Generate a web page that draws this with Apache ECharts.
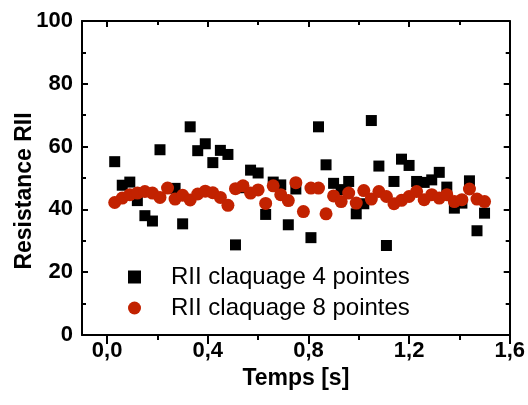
<!DOCTYPE html>
<html>
<head>
<meta charset="utf-8">
<script src="https://cdn.jsdelivr.net/npm/echarts@6/dist/echarts.min.js"></script>
<style>html,body{margin:0;padding:0;background:#fff}#c{width:528px;height:405px}</style>
</head>
<body>
<div id="c"></div>
<script>
// Data
const time4 = [0.03,0.06,0.09,0.12,0.15,0.18,0.21,0.27,0.30,0.33,0.36,0.39,0.42,0.45,0.48,0.51,0.54,0.57,0.60,0.63,0.66,0.69,0.72,0.75,0.81,0.84,0.87,0.90,0.93,0.96,0.99,1.02,1.05,1.08,1.11,1.14,1.17,1.20,1.23,1.26,1.29,1.32,1.35,1.38,1.41,1.44,1.47,1.50];
const rii4 = [55.2,47.7,48.7,42.8,38.0,36.3,59.0,46.7,35.4,66.3,58.7,60.9,54.9,58.8,57.5,28.7,46.9,52.5,51.6,38.4,48.7,47.8,35.1,46.5,31.0,66.3,54.2,48.3,46.3,48.9,38.6,41.8,68.3,53.8,28.5,48.9,56.0,54.0,48.9,48.6,49.4,51.8,47.1,40.4,42.0,49.1,33.2,38.8];
const time8 = [0.03,0.06,0.09,0.12,0.15,0.18,0.21,0.24,0.27,0.30,0.33,0.36,0.39,0.42,0.45,0.48,0.51,0.54,0.57,0.60,0.63,0.66,0.69,0.72,0.75,0.78,0.81,0.84,0.87,0.90,0.93,0.96,0.99,1.02,1.05,1.08,1.11,1.14,1.17,1.20,1.23,1.26,1.29,1.32,1.35,1.38,1.41,1.44,1.47,1.50];
const rii8 = [42.2,43.6,44.7,45.2,45.7,45.2,43.8,46.8,43.3,44.5,43.0,44.9,45.8,45.3,43.8,41.3,46.6,47.5,45.2,46.2,41.9,47.5,44.7,42.8,48.5,39.3,46.8,46.8,38.6,44.3,42.5,45.2,42.0,46.0,43.3,45.7,44.1,41.8,42.9,44.1,45.7,43.1,44.7,43.6,44.7,42.5,43.1,46.5,43.3,42.5];
const xMajor = [0, 0.4, 0.8, 1.2, 1.6];
const xMinor = [0.2, 0.6, 1.0, 1.4];
const seriesNames = ['RII claquage 4 pointes', 'RII claquage 8 pointes'];
const xTitle = 'Temps [s]';
const yTitle = 'Resistance RII';

const FONT = "'Liberation Sans', Arial, sans-serif";
const black = '#000';
const red = '#C22200';

const chart = echarts.init(document.getElementById('c'), null, {renderer: 'canvas'});

function xAx(pos, ticks, len, inside, showLine, showLabel) {
  return {
    type: 'value', position: pos, min: -0.1, max: 1.6,
    axisLine: {show: showLine, onZero: false, lineStyle: {color: black, width: 2}},
    axisTick: {show: true, inside: inside, length: len, customValues: ticks, lineStyle: {color: black, width: 2}},
    axisLabel: showLabel ? {show: true, customValues: ticks, margin: 5, color: black, fontFamily: FONT, fontWeight: 'bold', fontSize: 22,
      formatter: v => v.toFixed(1).replace('.', ',')} : {show: false},
    splitLine: {show: false}
  };
}
function yAx(pos, showLabel) {
  return {
    type: 'value', position: pos, min: 0, max: 100, interval: 20,
    axisLine: {show: true, onZero: false, lineStyle: {color: black, width: 2}},
    axisTick: {show: true, inside: true, length: 6, lineStyle: {color: black, width: 2}},
    minorTick: {show: true, splitNumber: 2, length: 4, lineStyle: {color: black, width: 2}},
    axisLabel: showLabel ? {show: true, margin: 9, color: black, fontFamily: FONT, fontWeight: 'bold', fontSize: 22} : {show: false},
    splitLine: {show: false}
  };
}

const xa0 = xAx('bottom', xMajor, 9, false, true, true);
xa0.name = xTitle;
xa0.nameLocation = 'middle';
xa0.nameGap = 22;
xa0.nameTextStyle = {color: black, fontFamily: FONT, fontWeight: 'bold', fontSize: 23};

const option = {
  animation: false,
  backgroundColor: '#fff',
  grid: {left: 82, right: 16, top: 21, bottom: 70, containLabel: false},
  xAxis: [
    xa0,
    xAx('bottom', xMinor, 5, false, false, false),
    xAx('top', xMajor, 6, true, true, false),
    xAx('top', xMinor, 4, true, false, false)
  ],
  yAxis: [yAx('left', true), yAx('right', false)],
  legend: {
    orient: 'vertical', left: 123, top: 260, itemGap: 7,
    itemWidth: 13, itemHeight: 13,
    data: [
      {name: seriesNames[0], icon: 'rect'},
      {name: seriesNames[1], icon: 'circle'}
    ],
    textStyle: {color: black, fontFamily: FONT, fontSize: 24, lineHeight: 22, padding: [0, 0, 0, 25]}
  },
  graphic: [{
    type: 'text', x: 25, y: 191, rotation: Math.PI / 2,
    style: {text: yTitle, fill: black, font: "bold 23px " + FONT, align: 'center', verticalAlign: 'middle'}
  }],
  series: [
    {
      name: seriesNames[0], type: 'scatter', xAxisIndex: 0, yAxisIndex: 0,
      symbol: 'rect', symbolSize: 11, itemStyle: {color: black, opacity: 1},
      data: time4.map((t, i) => [t, rii4[i]]), z: 2
    },
    {
      name: seriesNames[1], type: 'scatter', xAxisIndex: 0, yAxisIndex: 0,
      symbol: 'circle', symbolSize: 13, itemStyle: {color: red, opacity: 1},
      data: time8.map((t, i) => [t, rii8[i]]), z: 3
    }
  ]
};
chart.setOption(option);
</script>
</body>
</html>
